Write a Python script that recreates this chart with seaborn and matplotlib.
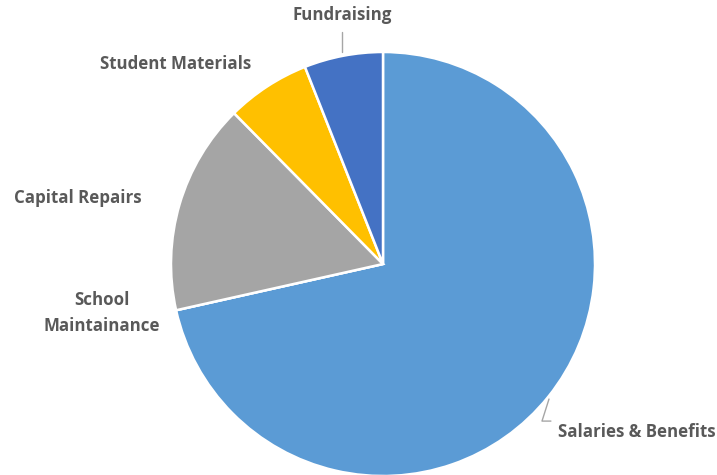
import matplotlib
matplotlib.use("Agg")
import matplotlib.pyplot as plt
import seaborn as sns

categories = ["Salaries & Benefits", "School\nMaintainance", "Capital Repairs",
              "Student Materials", "Fundraising"]
values = [71.5, 0.0, 16.1, 6.4, 6.0]
colors = ["#5B9BD5", "#ED7D31", "#A5A5A5", "#FFC000", "#4472C4"]

sns.set_theme(style="white")
plt.rcParams['font.family'] = ['Open Sans', 'DejaVu Sans']

fig = plt.figure(figsize=(7.17, 4.75), dpi=100)
ax = fig.add_axes([0, 0, 1, 1])
ax.pie(values, colors=colors, startangle=90, counterclock=False,
       wedgeprops=dict(edgecolor="white", linewidth=1.8))
ax.set_xlim(-383/212, (717-383)/212)
ax.set_ylim((264-475)/212, 264/212)
ax.set_aspect("equal")
ax.axis("off")

txt = dict(color="#595959", fontsize=12.2, fontweight="bold", ha="center", va="center")
label_pos = {
    "Salaries & Benefits": (1.196, -0.792),
    "School\nMaintainance": (-1.325, -0.231),
    "Capital Repairs": (-1.441, 0.311),
    "Student Materials": (-0.978, 0.943),
    "Fundraising": (-0.193, 1.175),
}
for c in categories:
    x, y = label_pos[c]
    ax.text(x, y, c, linespacing=1.6, **txt)

ax.plot([-0.193, -0.193], [1.094, 1.0], color="#A6A6A6", lw=1)
ax.plot([0.783, 0.75, 0.792], [-0.637, -0.741, -0.741], color="#A6A6A6", lw=1)

fig.savefig("out.png", dpi=100)
